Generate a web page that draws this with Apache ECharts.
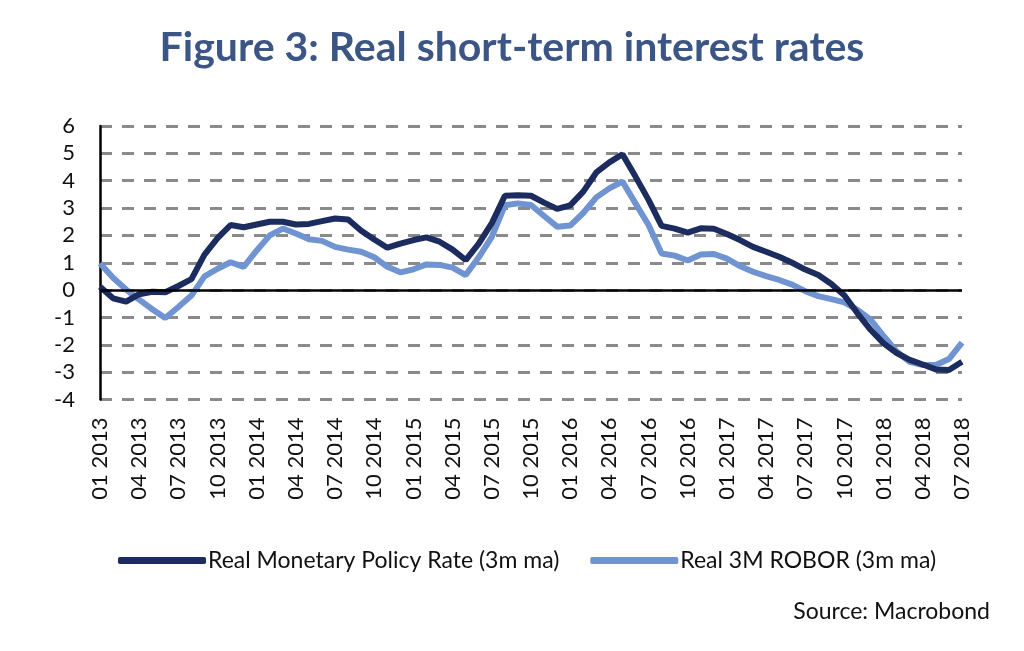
<!DOCTYPE html>
<html>
<head>
<meta charset="utf-8">
<script src="https://cdn.jsdelivr.net/npm/echarts@6/dist/echarts.min.js"></script>
<style>
html,body{margin:0;padding:0;background:#fff;}
#chart{width:1024px;height:651px;}
</style>
</head>
<body>
<div id="chart"></div>
<script>
const categories = [
 "01 2013","02 2013","03 2013","04 2013","05 2013","06 2013","07 2013","08 2013","09 2013","10 2013","11 2013","12 2013",
 "01 2014","02 2014","03 2014","04 2014","05 2014","06 2014","07 2014","08 2014","09 2014","10 2014","11 2014","12 2014",
 "01 2015","02 2015","03 2015","04 2015","05 2015","06 2015","07 2015","08 2015","09 2015","10 2015","11 2015","12 2015",
 "01 2016","02 2016","03 2016","04 2016","05 2016","06 2016","07 2016","08 2016","09 2016","10 2016","11 2016","12 2016",
 "01 2017","02 2017","03 2017","04 2017","05 2017","06 2017","07 2017","08 2017","09 2017","10 2017","11 2017","12 2017",
 "01 2018","02 2018","03 2018","04 2018","05 2018","06 2018","07 2018"
];
const policyRate = [
 0.12,-0.3,-0.42,-0.15,-0.06,-0.08,0.15,0.4,1.3,1.9,2.38,2.3,
 2.4,2.5,2.5,2.4,2.42,2.52,2.62,2.58,2.17,1.85,1.55,1.7,
 1.83,1.93,1.77,1.48,1.1,1.7,2.45,3.45,3.47,3.45,3.2,2.97,
 3.1,3.6,4.3,4.67,4.97,4.15,3.3,2.35,2.25,2.1,2.26,2.24,
 2.05,1.83,1.58,1.4,1.22,1.0,0.75,0.55,0.22,-0.2,-0.85,-1.45,
 -1.95,-2.3,-2.55,-2.72,-2.9,-2.92,-2.62
];
const robor = [
 0.98,0.45,0.02,-0.35,-0.7,-1.02,-0.62,-0.2,0.5,0.78,1.02,0.85,
 1.45,2.0,2.25,2.07,1.86,1.8,1.58,1.48,1.4,1.2,0.85,0.65,
 0.76,0.94,0.92,0.82,0.55,1.2,1.95,3.1,3.17,3.11,2.71,2.32,
 2.36,2.82,3.39,3.72,3.97,3.17,2.38,1.34,1.26,1.08,1.3,1.32,
 1.15,0.88,0.67,0.51,0.37,0.2,-0.04,-0.22,-0.33,-0.45,-0.72,-1.08,
 -1.68,-2.25,-2.62,-2.74,-2.74,-2.52,-1.92
];
const yTicks = {min:-4, max:6, interval:1};
const seriesNames = ["Real Monetary Policy Rate (3m ma)","Real 3M ROBOR (3m ma)"];

const FONT = "Lato";
const chart = echarts.init(document.getElementById('chart'), null, {renderer:'canvas'});
chart.setOption({
  backgroundColor:'#ffffff',
  animation:false,
  title:{
    text:'Figure 3: Real short-term interest rates',
    left:'center', top:22,
    textStyle:{fontFamily:FONT, fontWeight:'bold', fontSize:41, color:'#3b5584'}
  },
  graphic:[{
    type:'text', right:34, top:600,
    style:{text:'Source: Macrobond', font:'23px '+FONT, fill:'#111'}
  }],
  legend:{
    top:544, left:113,
    itemWidth:88, itemHeight:7, itemGap:31,
    icon:'roundRect',
    textStyle:{fontFamily:FONT, fontSize:23, color:'#111', padding:[0,0,0,-3]},
    data:seriesNames
  },
  grid:{left:100, right:62, top:126, bottom:251.5, containLabel:false},
  xAxis:{
    type:'category', data:categories, boundaryGap:false,
    axisLine:{show:false}, axisTick:{show:false},
    axisLabel:{interval:2, rotate:90, margin:18, fontFamily:FONT, fontSize:22, color:'#111'},
    splitLine:{show:false}
  },
  yAxis:{
    type:'value', min:yTicks.min, max:yTicks.max, interval:yTicks.interval,
    axisLine:{show:true, onZero:false, lineStyle:{color:'#000', width:2.5}},
    axisTick:{show:false},
    axisLabel:{margin:25, fontFamily:FONT, fontSize:22, color:'#111'},
    splitLine:{show:true, lineStyle:{color:'#8a8a8a', width:3, type:[12,10]}}
  },
  series:[
    {
      name:seriesNames[0], type:'line', data:policyRate, symbol:'none',
      lineStyle:{color:'#1c2c5e', width:6}, itemStyle:{color:'#1c2c5e'},
      z:3,
      markLine:{silent:true, symbol:'none', label:{show:false},
        lineStyle:{color:'#000', width:2.5, type:'solid'},
        data:[{yAxis:0}]}
    },
    {
      name:seriesNames[1], type:'line', data:robor, symbol:'none',
      lineStyle:{color:'#7094d1', width:6}, itemStyle:{color:'#7094d1'},
      z:2
    }
  ]
});
</script>
</body>
</html>
